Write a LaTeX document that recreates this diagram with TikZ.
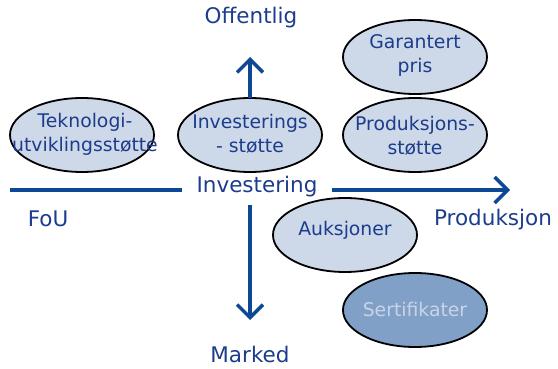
\documentclass[tikz,border=0pt]{standalone}
\usepackage{fontspec}
\setmainfont{DejaVu Sans}
\usetikzlibrary{arrows.meta,shapes.geometric}
\definecolor{txtblue}{RGB}{28,60,140}
\definecolor{arrblue}{RGB}{12,72,148}
\definecolor{ellfill}{RGB}{205,216,232}
\definecolor{darkfill}{RGB}{128,160,200}
\definecolor{lighttxt}{RGB}{200,212,230}
\tikzset{
  ell/.style={ellipse, draw=black, line width=1.8pt, fill=ellfill, minimum width=144pt, minimum height=74pt, inner sep=0pt},
  etext/.style={text=txtblue, align=center, font=\fontsize{18.8}{24}\selectfont, inner sep=0pt},
  lab/.style={text=txtblue, font=\fontsize{21.5}{25}\selectfont, inner sep=0pt},
  axis/.style={draw=arrblue, line width=3.5pt},
  axarr/.style={axis, -{Straight Barb[length=13pt,width=26pt]}}
}
\begin{document}
\begin{tikzpicture}[x=1pt,y=-1pt]
\useasboundingbox (0,0) rectangle (558,369);
% ellipses
\node[ell] (tek) at (82,135) {};
\node[etext] (tektxt) at (85,134) {Teknologi-\\utviklingsstøtte};
\node[ell] (inv) at (250,135) {};
\node[etext] (invtxt) at (250,134) {Investerings\\- støtte};
\node[ell] (gar) at (415,57) {};
\node[etext] (gartxt) at (415,55) {Garantert\\pris};
\node[ell] (prod) at (415,135) {};
\node[etext] (prodtxt) at (415,136) {Produksjons-\\støtte};
\node[ell] (auk) at (345,235) {};
\node[etext] (auktxt) at (345,230) {Auksjoner};
\node[ell, fill=darkfill] (sert) at (415,310) {};
\node[etext, text=lighttxt] (serttxt) at (415,309) {Sertifikater};
% labels
\node[lab] (off) at (251,18) {Offentlig};
\node[lab] (invest) at (257,187) {Investering};
\node[lab] (fou) at (48,219) {FoU};
\node[lab] (prodk) at (493,220) {Produksjon};
\node[lab] (mark) at (250,354) {Marked};
% axes
\coordinate (hl) at (10,190);
\coordinate (hr) at (182,190);
\coordinate (ra) at (332,190);
\coordinate (rb) at (510,190);
\coordinate (ua) at (250,98);
\coordinate (ub) at (250,57);
\coordinate (da) at (250,205);
\coordinate (db) at (250,320);
\draw[axis] (hl) -- (hr);
\draw[axarr] (ra) -- (rb);
\draw[axarr] (ua) -- (ub);
\draw[axarr] (da) -- (db);
\end{tikzpicture}
\end{document}
